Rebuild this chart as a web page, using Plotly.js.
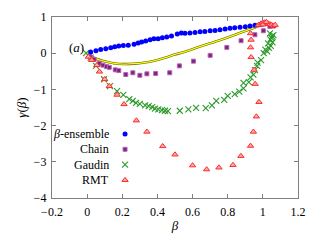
<!DOCTYPE html>
<html>
<head>
<meta charset="utf-8">
<script src="https://cdn.plot.ly/plotly-3.0.1.min.js"></script>
<style>html,body{margin:0;padding:0;background:#fff;}#chart{width:324px;height:243px;}</style>
</head>
<body>
<div id="chart"></div>
<script>
// β-ensemble
var ensX = [0.02,0.05,0.077,0.106,0.134,0.157,0.18,0.206,0.234,0.267,0.29,0.31,0.333,0.358,0.38,0.404,0.428,0.453,0.48,0.513,0.536,0.557,0.585,0.614,0.643,0.67,0.70,0.728,0.756,0.785,0.813,0.84,0.87,0.90,0.927,0.955,0.984,1.0,1.01,1.02];
var ensY = [0.03,0.07,0.10,0.12,0.15,0.18,0.20,0.21,0.22,0.25,0.28,0.31,0.34,0.37,0.40,0.40,0.43,0.45,0.475,0.53,0.56,0.55,0.56,0.57,0.59,0.60,0.62,0.63,0.65,0.67,0.69,0.705,0.72,0.73,0.75,0.77,0.79,0.81,0.82,0.83];
// Chain
var chainX = [0.017,0.04,0.07,0.09,0.11,0.126,0.16,0.18,0.22,0.26,0.30,0.34,0.39,0.47,0.525,0.605,0.70,0.795,0.876,0.955,1.003,1.04,1.06];
var chainY = [-0.10,-0.17,-0.28,-0.33,-0.37,-0.39,-0.46,-0.48,-0.59,-0.54,-0.61,-0.57,-0.56,-0.54,-0.35,-0.22,-0.06,0.16,0.345,0.51,0.62,0.74,0.75];
// Gaudin
var gaudX = [-0.006,0.02,0.05,0.096,0.13,0.17,0.206,0.24,0.26,0.278,0.30,0.33,0.35,0.37,0.386,0.405,0.425,0.443,0.46,0.527,0.576,0.62,0.675,0.71,0.735,0.78,0.80,0.84,0.866,0.89,0.89,0.92,0.93,0.946,0.955,0.967,0.97,0.99,1.005,1.014,1.03,1.043,1.052,1.04,1.055,1.045,1.035,1.05,1.025,1.06];
var gaudY = [0.0,-0.12,-0.35,-0.72,-0.91,-1.05,-1.15,-1.27,-1.32,-1.37,-1.40,-1.44,-1.46,-1.49,-1.53,-1.55,-1.57,-1.59,-1.60,-1.59,-1.55,-1.51,-1.52,-1.44,-1.32,-1.29,-1.18,-1.13,-1.06,-0.97,-0.82,-0.80,-0.67,-0.59,-0.47,-0.35,-0.26,-0.19,0.0,0.10,0.27,0.38,0.47,0.55,0.30,0.20,0.15,0.42,0.05,0.50];
// RMT
var rmtX = [0.007,0.026,0.055,0.07,0.10,0.126,0.17,0.21,0.28,0.34,0.43,0.50,0.60,0.68,0.75,0.83,0.875,0.93,0.946,0.963,0.978,0.956,0.95,0.933,0.93,0.933,0.93,0.975,0.99,1.0,1.01,1.02,1.03,1.04,1.05,1.06,1.0,1.02,1.07];
var rmtY = [-0.10,-0.19,-0.33,-0.51,-0.72,-0.91,-1.15,-1.41,-1.86,-2.17,-2.57,-2.80,-3.10,-3.21,-3.16,-3.09,-2.84,-2.56,-2.17,-1.75,-1.35,-0.85,-0.46,-0.11,0.16,0.37,0.55,0.78,0.82,0.84,0.85,0.83,0.82,0.80,0.78,0.76,0.79,0.86,0.78];
// theory curve
var curveX = [0.0,0.04,0.096,0.153,0.21,0.267,0.324,0.38,0.44,0.495,0.55,0.64,0.76,0.87,1.0];
var curveY = [0.0,-0.13,-0.22,-0.28,-0.30,-0.29,-0.26,-0.21,-0.13,-0.04,0.03,0.18,0.37,0.56,0.79];
// legend
var legendNames = ['<i>β</i>-ensemble','Chain','Gaudin','RMT'];
var legendTextX = 0.24, legendMarkX = 0.297;
var legendY = [0.354,0.269,0.184,0.099];

var cBlue = '#0000ff', cPurple = '#7f1f7f', cGreen = '#2a9a2a', cRed = '#ff2a2a';
var mBlue = {symbol:'circle', size:5, color:cBlue};
var mPurple = {symbol:'square', size:4, color:cPurple, line:{color:'#b567b5', width:1}};
var mGreen = {symbol:'x-thin-open', size:6, color:cGreen, line:{color:cGreen, width:1.1}};
var mRed = {symbol:'triangle-up', size:5.5, color:'#ffa8a8', line:{color:cRed, width:1}};
var markers = [mBlue, mPurple, mGreen, mRed];

var traces = [
  {x:curveX, y:curveY, mode:'lines', line:{color:'#5a5a00', width:2.4, shape:'spline'}, hoverinfo:'skip'},
  {x:curveX, y:curveY, mode:'lines', line:{color:'#ffff00', width:1.3, shape:'spline'}, hoverinfo:'skip'},
  {x:gaudX, y:gaudY, mode:'markers', marker:mGreen},
  {x:chainX, y:chainY, mode:'markers', marker:mPurple},
  {x:ensX, y:ensY, mode:'markers', marker:mBlue},
  {x:rmtX, y:rmtY, mode:'markers', marker:mRed}
];
for (var i=0;i<4;i++){
  traces.push({x:[legendMarkX], y:[legendY[i]], xaxis:'x2', yaxis:'y2', mode:'markers', marker:markers[i], hoverinfo:'skip'});
}

var serif = 'Liberation Serif, DejaVu Serif, serif';
var annotations = [
  {x:-0.062, y:0.17, xref:'x', yref:'y', text:'(<i>a</i>)', showarrow:false, font:{family:serif, size:13, color:'#000'}}
];
for (var j=0;j<4;j++){
  annotations.push({x:legendTextX, y:legendY[j], xref:'paper', yref:'paper', xanchor:'right', yanchor:'middle', text:legendNames[j], showarrow:false, font:{family:serif, size:12, color:'#000'}});
}

var axCommon = {
  showgrid:false, zeroline:false, ticks:'inside', ticklen:4, tickwidth:1, tickcolor:'#808080',
  showline:true, linecolor:'#808080', linewidth:1.2, mirror:'ticks',
  tickfont:{family:serif, size:12, color:'#000'}
};
var layout = {
  width:324, height:243,
  margin:{l:52, r:26, t:17, b:45},
  paper_bgcolor:'#fff', plot_bgcolor:'#fff',
  showlegend:false,
  xaxis: Object.assign({}, axCommon, {range:[-0.2,1.2], dtick:0.2, tick0:-0.2, ticklabelstandoff:2,
    title:{text:'<i>β</i>', font:{family:serif, size:13, color:'#000'}, standoff:3}}),
  yaxis: Object.assign({}, axCommon, {range:[-4,1], dtick:1, ticklabelstandoff:2,
    title:{text:'<i>γ</i>(<i>β</i>)', font:{family:serif, size:13, color:'#000'}, standoff:4}}),
  xaxis2:{overlaying:'x', range:[0,1], visible:false, fixedrange:true},
  yaxis2:{overlaying:'y', range:[0,1], visible:false, fixedrange:true},
  annotations:annotations
};
Plotly.newPlot('chart', traces, layout, {displayModeBar:false, staticPlot:true});
</script>
</body>
</html>
